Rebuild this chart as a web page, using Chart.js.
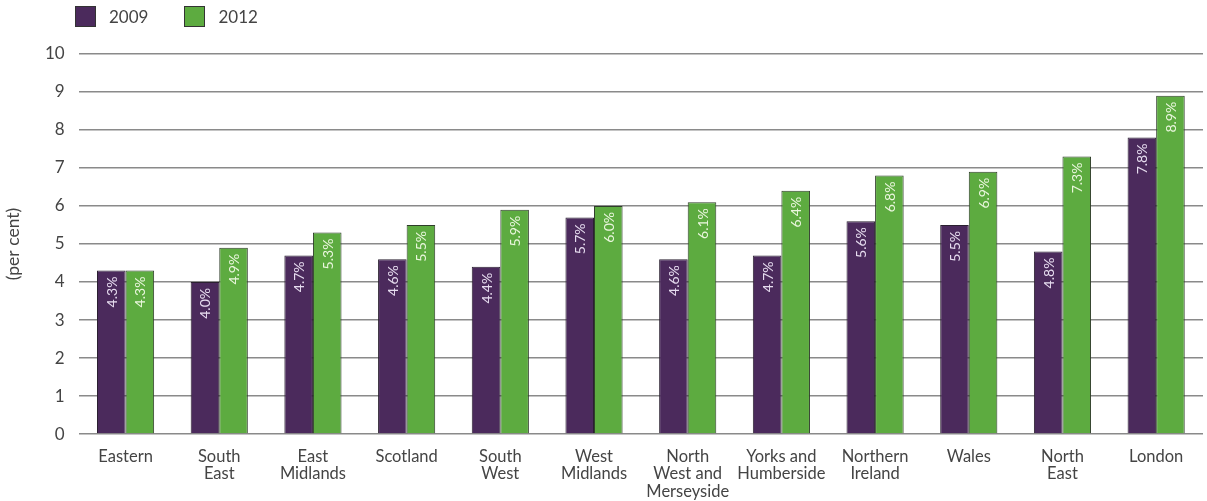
<!DOCTYPE html>
<html>
<head>
<meta charset="utf-8">
<script src="https://cdn.jsdelivr.net/npm/chart.js@4.4.1/dist/chart.umd.min.js"></script>
<style>
  html, body { margin: 0; padding: 0; background: #fff; }
  #wrap { position: relative; width: 1207px; height: 501px; }
  #legend { position: absolute; left: 75px; top: 6px; display: flex; font-family: Lato, sans-serif; font-size: 17px; color: #444; }
  #legend .item { display: flex; align-items: center; margin-right: 36px; }
  #legend .box { width: 21px; height: 21px; border: 1px solid #333; margin-right: 13px; box-sizing: border-box; }
</style>
</head>
<body>
<div id="wrap">
  <canvas id="chart" width="1207" height="501"></canvas>
  <div id="legend"></div>
</div>
<script>
// categories and series
const regions = [
    'Eastern', ['South', 'East'], ['East', 'Midlands'], 'Scotland', ['South', 'West'],
    ['West', 'Midlands'], ['North', 'West and', 'Merseyside'], ['Yorks and', 'Humberside'],
    ['Northern', 'Ireland'], 'Wales', ['North', 'East'], 'London'
];
const values2009 = [4.3, 4.0, 4.7, 4.6, 4.4, 5.7, 4.6, 4.7, 5.6, 5.5, 4.8, 7.8];
const values2012 = [4.3, 4.9, 5.3, 5.5, 5.9, 6.0, 6.1, 6.4, 6.8, 6.9, 7.3, 8.9];
const yTicks = [0, 1, 2, 3, 4, 5, 6, 7, 8, 9, 10];

const purple = '#4b2a5c';
const green = '#5dab40';

// writes the value up the inside of each bar
const barLabels = {
    id: 'barLabels',
    afterDatasetsDraw(chart) {
        const ctx = chart.ctx;
        chart.data.datasets.forEach((ds, i) => {
            const meta = chart.getDatasetMeta(i);
            meta.data.forEach((bar, j) => {
                ctx.save();
                ctx.translate(bar.x + 1, bar.y + 6);
                ctx.rotate(-Math.PI / 2);
                ctx.font = '14px Lato, sans-serif';
                ctx.fillStyle = ds.labelColor;
                ctx.textAlign = 'right';
                ctx.textBaseline = 'middle';
                ctx.fillText(ds.data[j].toFixed(1) + '%', 0, 0);
                ctx.restore();
            });
        });
    }
};

const chart = new Chart(document.getElementById('chart'), {
    type: 'bar',
    data: {
        labels: regions,
        datasets: [
            { label: '2009', data: values2009, backgroundColor: purple, borderColor: '#2a2030', borderWidth: 1, labelColor: '#e6dcef' },
            { label: '2012', data: values2012, backgroundColor: green, borderColor: '#2f3d2a', borderWidth: 1, labelColor: '#eaf6dd' }
        ]
    },
    options: {
        responsive: false,
        animation: false,
        layout: { padding: { top: 54, right: 4, left: 3, bottom: -5 } },
        categoryPercentage: 0.61,
        barPercentage: 1,
        plugins: {
            legend: { display: false },
            tooltip: { enabled: false }
        },
        scales: {
            x: {
                grid: { display: false },
                border: { display: false },
                ticks: { color: '#444', font: { family: 'Lato', size: 16.5, lineHeight: 1.05 }, maxRotation: 0, autoSkip: false, padding: 6 }
            },
            y: {
                min: 0,
                max: 10,
                afterBuildTicks(axis) { axis.ticks = yTicks.map(v => ({ value: v })); },
                grid: { color: '#8a8a8a', lineWidth: 1.5, drawTicks: false },
                border: { display: false },
                ticks: { color: '#444', font: { family: 'Lato', size: 17 }, padding: 14 },
                title: { display: true, text: '(per cent)', color: '#444', font: { family: 'Lato', size: 17.5 }, padding: { top: 0, bottom: 7 } }
            }
        }
    },
    plugins: [barLabels]
});

// legend built from the datasets
const legend = document.getElementById('legend');
chart.data.datasets.forEach(ds => {
    const item = document.createElement('div');
    item.className = 'item';
    item.innerHTML = '<span class="box" style="background:' + ds.backgroundColor + '"></span><span>' + ds.label + '</span>';
    legend.appendChild(item);
});
</script>
</body>
</html>
